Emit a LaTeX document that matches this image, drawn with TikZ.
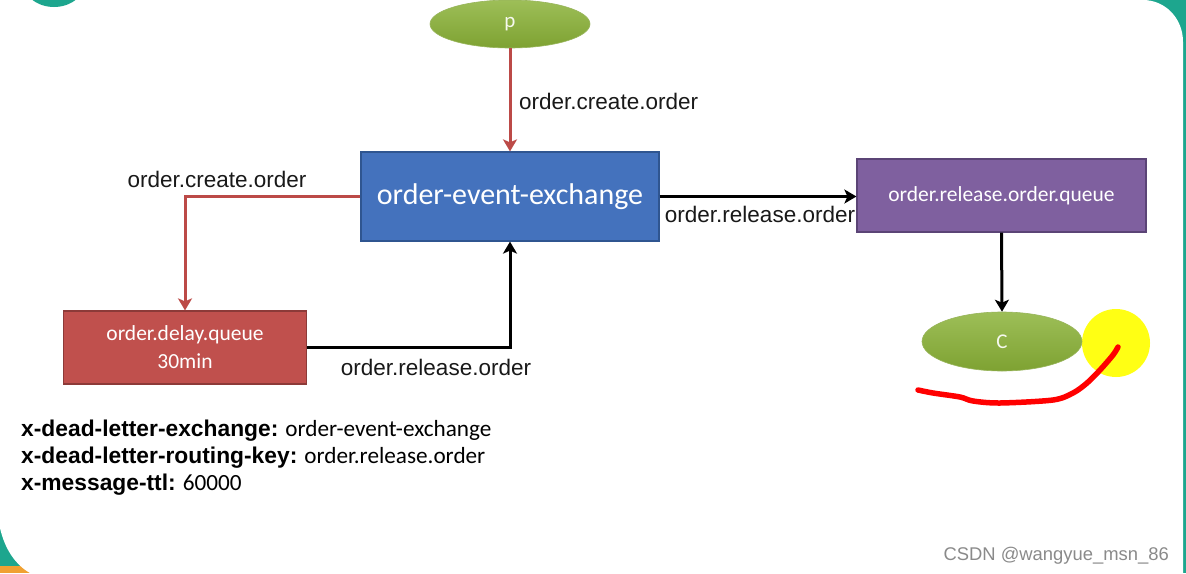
\documentclass[tikz,border=0pt]{standalone}
\usepackage{fontspec}
\setmainfont{Liberation Sans}
\newfontfamily\fArial{Liberation Sans}
\newfontfamily\fCal{Carlito}
\usetikzlibrary{shapes.geometric,arrows.meta}
\definecolor{teal1}{HTML}{1DA68E}
\definecolor{orng}{HTML}{F0A132}
\definecolor{grn}{HTML}{8CB33A}
\definecolor{grnD}{HTML}{7EA232}
\definecolor{blu}{HTML}{4472BD}
\definecolor{bluD}{HTML}{2F5590}
\definecolor{rdb}{HTML}{C0504D}
\definecolor{rdbD}{HTML}{8C3A38}
\definecolor{pur}{HTML}{7F609F}
\definecolor{purD}{HTML}{5B4476}
\definecolor{rarr}{HTML}{BC4A47}
\definecolor{ylw}{HTML}{FFFF14}
\definecolor{wm}{HTML}{8A8A8A}
\tikzset{
  ell/.style={ellipse, inner sep=0pt, top color=grn!85!white, bottom color=grnD, draw=grnD!80, line width=0.6pt,
              text=white!92!grn, font=\fCal\fontsize{21}{24}\selectfont},
  boxx/.style={rectangle, inner sep=0pt, line width=1.2pt, text=white, align=center},
  lbl/.style={font=\fArial\fontsize{22.5}{26}\selectfont, text=black!90, inner sep=0pt},
  arrowline/.style={line width=3pt, -{Stealth[length=12pt,width=14pt,inset=3pt]}},
  keyfont/.style={font=\fArial\bfseries\fontsize{22.8}{26}\selectfont},
}
\newcommand{\keyv}[2]{{\fArial\bfseries\fontsize{22.8}{26}\selectfont #1}\hspace{7pt}{\fCal\fontsize{23.2}{26}\selectfont #2}}
\begin{document}
\begin{tikzpicture}[x=1pt,y=-1pt]
\useasboundingbox (0,0) rectangle (1186,573);
% background
\fill[teal1] (0,0) rectangle (1186,573);
\fill[orng] (0,566) rectangle (40,573);
\fill[white] (0,0) -- (1143,0) .. controls (1165,0) and (1183,18) .. (1183,42)
   -- (1183,573) -- (30,573) .. controls (16,565) and (5,550) .. (0,528) -- cycle;
\begin{scope}
\clip (0,0) rectangle (1186,573);
\fill[teal1] (54,-20) ellipse [x radius=32, y radius=27];
\end{scope}

% nodes
\node[ell, minimum width=160, minimum height=48] (p) at (510,24) {p};
\node[boxx, fill=blu, draw=bluD, minimum width=298, minimum height=89,
      font=\fCal\fontsize{30}{34}\selectfont] (ex) at (510,196.5) {order-event-exchange};
\node[boxx, fill=rdb, draw=rdbD, minimum width=243, minimum height=73,
      font=\fCal\fontsize{21.5}{28}\selectfont] (dq) at (185,347.5) {order.delay.queue\\30min};
\node[boxx, fill=pur, draw=purD, minimum width=289, minimum height=73,
      font=\fCal\fontsize{21.5}{26}\selectfont] (rq) at (1001.5,195.5) {order.release.order.queue};
\fill[ylw] (1116,343) circle (34);
\node[ell, minimum width=160, minimum height=59] (c) at (1002,341.5) {C};

% connectors
\draw[arrowline, rarr] (p.south) -- (ex.north);
\draw[arrowline, rarr] (ex.west) -| (dq.north);
\draw[arrowline, black] (dq.east) -| (ex.south);
\draw[arrowline, black] (ex.east) -- (ex.east -| rq.west);
\draw[arrowline, black] (rq.south) -- (c.north);

% labels
\node[lbl, anchor=west] (l1) at (519,101) {order.create.order};
\node[lbl] (l2) at (217,179) {order.create.order};
\node[lbl] (l3) at (436,367) {order.release.order};
\node[lbl] (l4) at (760,214) {order.release.order};

% attributes
\node[anchor=base west, inner sep=0pt] (a1) at (21,436) {\keyv{x-dead-letter-exchange:}{order-event-exchange}};
\node[anchor=base west, inner sep=0pt] (a2) at (21,463) {\keyv{x-dead-letter-routing-key:}{order.release.order}};
\node[anchor=base west, inner sep=0pt] (a3) at (21,490) {\keyv{x-message-ttl:}{60000}};

% red scribble
\draw[red, line width=5.5pt, line cap=round, line join=round]
  plot[smooth, tension=0.5] coordinates {(918,390) (933,393) (960,397) (973,401) (1000,403) (1053,400) (1073,393) (1087,383) (1100,370) (1113,355) (1118,347)};

% watermark
\node[anchor=base east, inner sep=0pt, text=wm, font=\fArial\fontsize{18.4}{22}\selectfont] (wmk) at (1169,560) {CSDN @wangyue\_msn\_86};
\end{tikzpicture}
\end{document}
